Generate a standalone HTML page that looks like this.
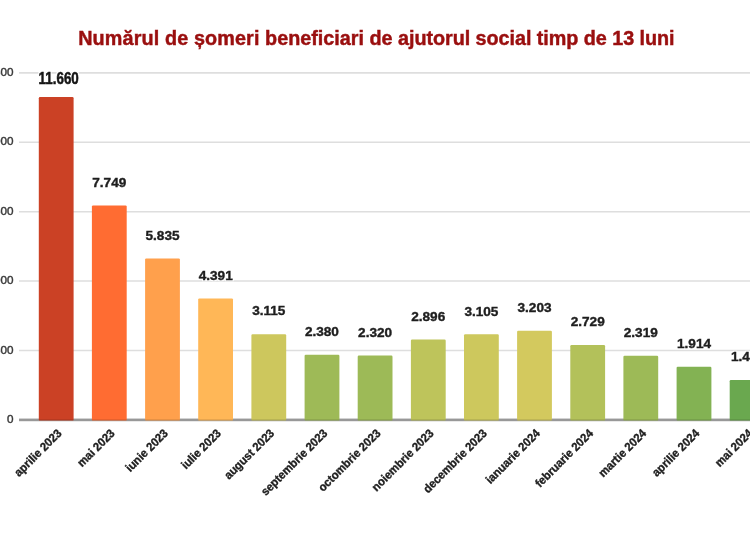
<!DOCTYPE html>
<html lang="ro">
<head>
<meta charset="utf-8">
<title>Numărul de șomeri beneficiari de ajutorul social timp de 13 luni</title>
<style>
html,body{margin:0;padding:0;background:#fff;}
body{width:750px;height:536px;overflow:hidden;}
svg{display:block;font-family:"Liberation Sans",Arial,sans-serif;filter:blur(0.45px);}
.t{font-size:19.8px;font-weight:bold;fill:#9a0f0f;stroke:#9a0f0f;stroke-width:0.45px;}
.v{font-size:13.6px;font-weight:bold;fill:#1e1e1e;stroke:#1e1e1e;stroke-width:0.4px;text-anchor:middle;filter:url(#halo);}
.v1{font-size:15.3px;font-weight:bold;fill:#151515;stroke:#151515;stroke-width:0.5px;text-anchor:middle;filter:url(#halo);}
.x{font-size:11.8px;font-weight:bold;fill:#1e1e1e;stroke:#1e1e1e;stroke-width:0.35px;text-anchor:end;}
.y{font-size:11.7px;fill:#3c3c3c;stroke:#3c3c3c;stroke-width:0.45px;text-anchor:end;}
</style>
</head>
<body>
<svg width="750" height="536" viewBox="0 0 750 536">
<rect x="-5" y="-5" width="760" height="546" fill="#fff"/>
<defs><filter id="halo" color-interpolation-filters="sRGB" x="-20%" y="-40%" width="140%" height="180%"><feMorphology in="SourceAlpha" operator="dilate" radius="1.15" result="d"/><feFlood flood-color="#fff"/><feComposite in2="d" operator="in" result="h"/><feMerge><feMergeNode in="h"/><feMergeNode in="SourceGraphic"/></feMerge></filter></defs>
<text class="t" x="78.2" y="44.6"><tspan letter-spacing="0.13">Numărul de șomeri</tspan> beneficiari de <tspan letter-spacing="-0.06">ajutorul social timp de</tspan> 13<tspan letter-spacing="-0.1"> luni</tspan></text>
<line x1="19" x2="760" y1="72.9" y2="72.9" stroke="#dedede" stroke-width="1.6"/>
<line x1="19" x2="760" y1="142.3" y2="142.3" stroke="#dedede" stroke-width="1.6"/>
<line x1="19" x2="760" y1="211.7" y2="211.7" stroke="#dedede" stroke-width="1.6"/>
<line x1="19" x2="760" y1="281.0" y2="281.0" stroke="#dedede" stroke-width="1.6"/>
<line x1="19" x2="760" y1="350.5" y2="350.5" stroke="#dedede" stroke-width="1.6"/>
<text class="y" x="13.6" y="76.0">12500</text>
<text class="y" x="13.6" y="145.4">10000</text>
<text class="y" x="13.6" y="214.8">7500</text>
<text class="y" x="13.6" y="284.1">5000</text>
<text class="y" x="13.6" y="353.6">2500</text>
<text class="y" x="13.6" y="423.2">0</text>
<line x1="19" x2="760" y1="419.9" y2="419.9" stroke="#a8a8a8" stroke-width="2.6"/>
<rect x="38.8" y="97.0" width="34.8" height="323.6" rx="1.2" fill="#CB4125"/>
<rect x="91.9" y="205.4" width="34.8" height="215.2" rx="1.2" fill="#FF6C32"/>
<rect x="145.1" y="258.4" width="34.8" height="162.2" rx="1.2" fill="#FFA04C"/>
<rect x="198.2" y="298.4" width="34.8" height="122.2" rx="1.2" fill="#FFB757"/>
<rect x="251.4" y="334.2" width="34.8" height="86.4" rx="1.2" fill="#CDC75D"/>
<rect x="304.6" y="354.7" width="34.8" height="65.9" rx="1.2" fill="#9EBA57"/>
<rect x="357.7" y="355.6" width="34.8" height="65.0" rx="1.2" fill="#9DBA57"/>
<rect x="410.9" y="339.5" width="34.8" height="81.1" rx="1.2" fill="#BEC45B"/>
<rect x="464.0" y="334.3" width="34.8" height="86.3" rx="1.2" fill="#CDC85D"/>
<rect x="517.1" y="330.7" width="34.8" height="89.9" rx="1.2" fill="#D3C95E"/>
<rect x="570.3" y="345.1" width="34.8" height="75.5" rx="1.2" fill="#B3C15A"/>
<rect x="623.4" y="355.8" width="34.8" height="64.8" rx="1.2" fill="#9DBA57"/>
<rect x="676.6" y="366.7" width="34.8" height="53.9" rx="1.2" fill="#83B253"/>
<rect x="729.7" y="380.0" width="34.8" height="40.6" rx="1.2" fill="#6AA84F"/>
<line x1="19" x2="760" y1="420.0" y2="420.0" stroke="#000" stroke-opacity="0.13" stroke-width="1.6"/>
<text class="v1" transform="translate(58.7 83.7) scale(0.875 1.07)" x="0" y="0">11.660</text>
<text class="v" x="109.3" y="186.6">7.749</text>
<text class="v" x="162.5" y="239.6">5.835</text>
<text class="v" x="215.7" y="279.6">4.391</text>
<text class="v" x="268.8" y="315.4">3.115</text>
<text class="v" x="321.9" y="335.9">2.380</text>
<text class="v" x="375.1" y="336.8">2.320</text>
<text class="v" x="428.2" y="320.7">2.896</text>
<text class="v" x="481.4" y="315.5">3.105</text>
<text class="v" x="534.5" y="311.9">3.203</text>
<text class="v" x="587.7" y="326.3">2.729</text>
<text class="v" x="640.8" y="337.0">2.319</text>
<text class="v" x="694.0" y="347.9">1.914</text>
<text class="v" x="748.0" y="361.2">1.453</text>
<text class="x" transform="translate(62.4 434.0) rotate(-45) scale(0.955 1)">aprilie 2023</text>
<text class="x" transform="translate(115.5 434.0) rotate(-45) scale(0.955 1)">mai 2023</text>
<text class="x" transform="translate(168.7 434.0) rotate(-45) scale(0.955 1)">iunie 2023</text>
<text class="x" transform="translate(221.8 434.0) rotate(-45) scale(0.955 1)">iulie 2023</text>
<text class="x" transform="translate(275.0 434.0) rotate(-45) scale(0.955 1)">august 2023</text>
<text class="x" transform="translate(328.1 434.0) rotate(-45) scale(0.955 1)">septembrie 2023</text>
<text class="x" transform="translate(381.3 434.0) rotate(-45) scale(0.955 1)">octombrie 2023</text>
<text class="x" transform="translate(434.4 434.0) rotate(-45) scale(0.955 1)">noiembrie 2023</text>
<text class="x" transform="translate(487.6 434.0) rotate(-45) scale(0.955 1)">decembrie 2023</text>
<text class="x" transform="translate(540.8 434.0) rotate(-45) scale(0.955 1)">ianuarie 2024</text>
<text class="x" transform="translate(593.9 434.0) rotate(-45) scale(0.955 1)">februarie 2024</text>
<text class="x" transform="translate(647.0 434.0) rotate(-45) scale(0.955 1)">martie 2024</text>
<text class="x" transform="translate(700.2 434.0) rotate(-45) scale(0.955 1)">aprilie 2024</text>
<text class="x" transform="translate(753.3 434.0) rotate(-45) scale(0.955 1)">mai 2024</text>
</svg>
</body>
</html>
